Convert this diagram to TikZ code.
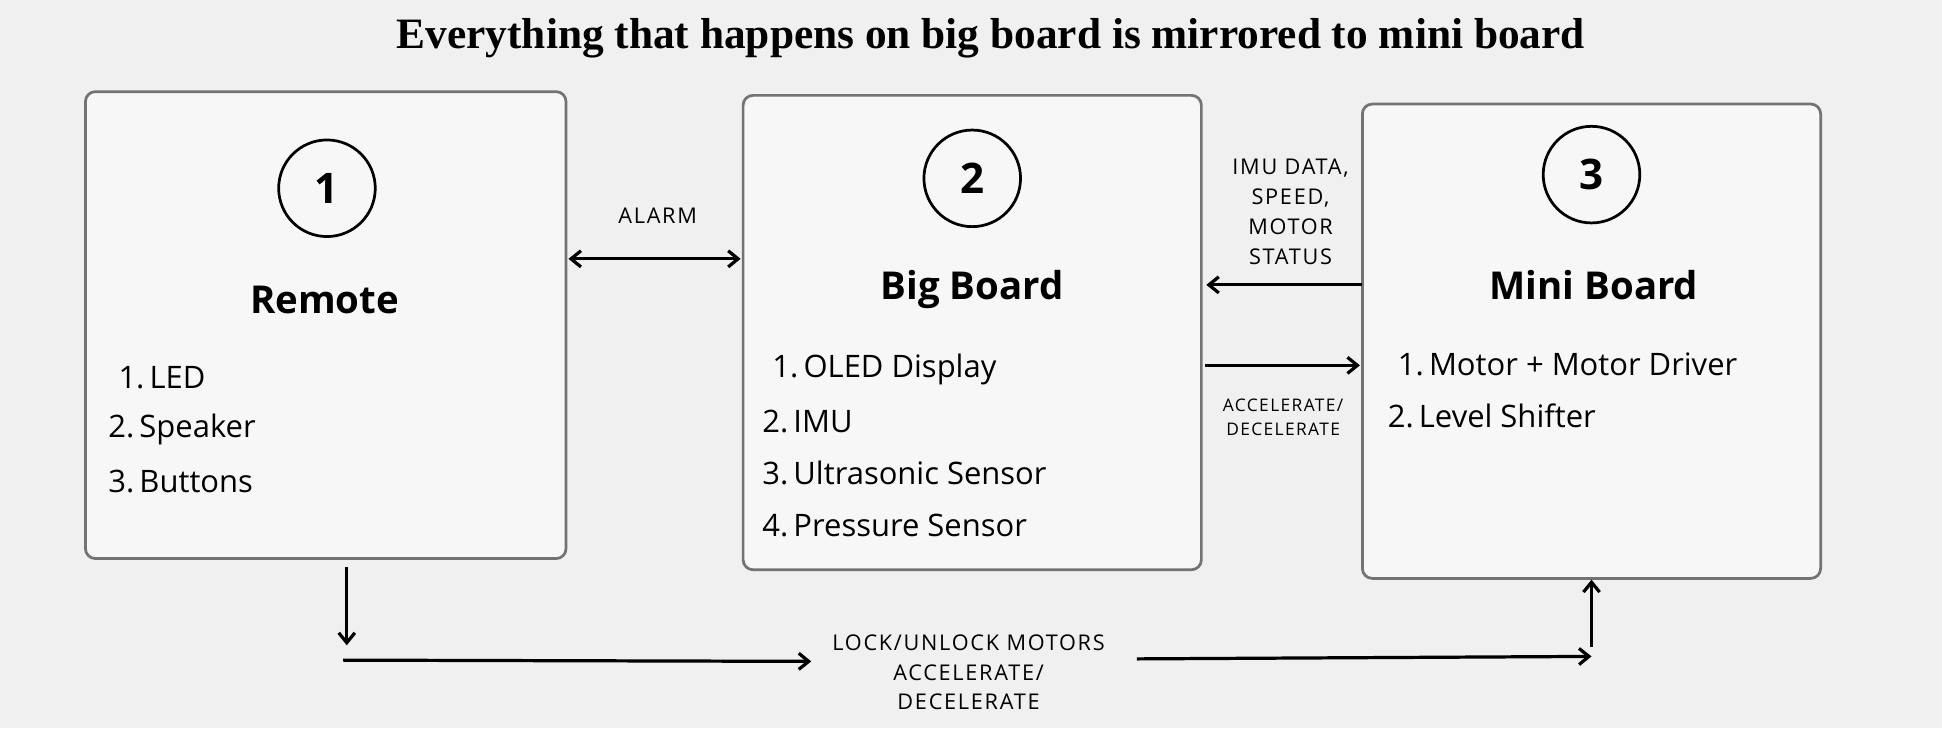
\documentclass[tikz,border=0pt]{standalone}
\usepackage{fontspec}
\setmainfont{Open Sans}
\newfontfamily\ttl{Open Sans}
\newfontfamily\lsp{Open Sans}[LetterSpace=8]
\newfontfamily\hdr{Liberation Serif}
\usetikzlibrary{arrows.meta}
\begin{document}
\begin{tikzpicture}[x=1pt,y=-1pt,
 box/.style={draw=black!55,line width=2.2pt,fill=white!97!black,rounded corners=8pt},
 num/.style={circle,draw,line width=2.2pt,minimum size=78pt,inner sep=0pt,font=\ttl\fontsize{34}{34}\selectfont\bfseries},
 ttlf/.style={font=\ttl\fontsize{31}{31}\selectfont\bfseries},
 item/.style={anchor=west,font=\fontsize{25}{25}\selectfont},
 lab/.style={font=\lsp\fontsize{17.5}{24}\selectfont,align=center},
 slab/.style={font=\lsp\fontsize{14}{19}\selectfont,align=center},
 arr/.style={line width=2.6pt,-{Straight Barb[length=8pt,width=13pt]}},
 darr/.style={line width=2.6pt,{Straight Barb[length=8pt,width=13pt]}-{Straight Barb[length=8pt,width=13pt]}}]
\fill[black!6] (0,0) rectangle (1568,588);
\useasboundingbox (0,0) rectangle (1568,588);
\node (title) at (800,31) {\hdr\fontsize{35}{35}\selectfont\bfseries Everything that happens on big board is mirrored to mini board};
\draw[box] (69,74) rectangle (457,451);
\draw[box] (600,77) rectangle (970,460);
\draw[box] (1100,84) rectangle (1470,467);
\node[num] (n1) at (264,152) {1};
\node[num] (n2) at (785,144) {2};
\node[num] (n3) at (1285,141) {3};
\node[ttlf] (t1) at (262,242) {Remote};
\node[ttlf] (t2) at (785,234) {Big Board};
\node[ttlf] (t3) at (1287,230) {Mini Board};
\node[item] (a1) at (88,305) {\,1.\,LED};
\node[item] (a2) at (84,347) {2.\,Speaker};
\node[item] (a3) at (84,389) {3.\,Buttons};
\node[item] (b1) at (616,298) {\,1.\,OLED Display};
\node[item] (b2) at (612,340) {2.\,IMU};
\node[item] (b3) at (612,382) {3.\,Ultrasonic Sensor};
\node[item] (b4) at (612,424) {4.\,Pressure Sensor};
\node[item] (c1) at (1121,294) {\,1.\,Motor + Motor Driver};
\node[item] (c2) at (1117,336) {2.\,Level Shifter};
\coordinate (p1) at (459,209); \coordinate (p2) at (598,209);
\draw[darr] (p1) -- (p2);
\node[lab] (alarm) at (531,174) {ALARM};
\coordinate (q1) at (1100,230); \coordinate (q2) at (974,230);
\draw[arr] (q1) -- (q2);
\node[lab] (imu) at (1042,171) {IMU DATA,\\SPEED,\\MOTOR\\STATUS};
\coordinate (r1) at (973,295); \coordinate (r2) at (1098,295);
\draw[arr] (r1) -- (r2);
\node[slab] (acc) at (1036,337) {ACCELERATE/\\DECELERATE};
\coordinate (s1) at (280,458); \coordinate (s2) at (280,521);
\draw[arr] (s1) -- (s2);
\coordinate (s3) at (277,533); \coordinate (s4) at (655,534);
\draw[arr] (s3) -- (s4);
\node[lab] (lock) at (782,543) {LOCK/UNLOCK MOTORS\\ACCELERATE/\\DECELERATE};
\coordinate (s5) at (918,532); \coordinate (s6) at (1285,530);
\draw[arr] (s5) -- (s6);
\coordinate (s7) at (1285,522); \coordinate (s8) at (1285,468);
\draw[arr] (s7) -- (s8);
\end{tikzpicture}
\end{document}
